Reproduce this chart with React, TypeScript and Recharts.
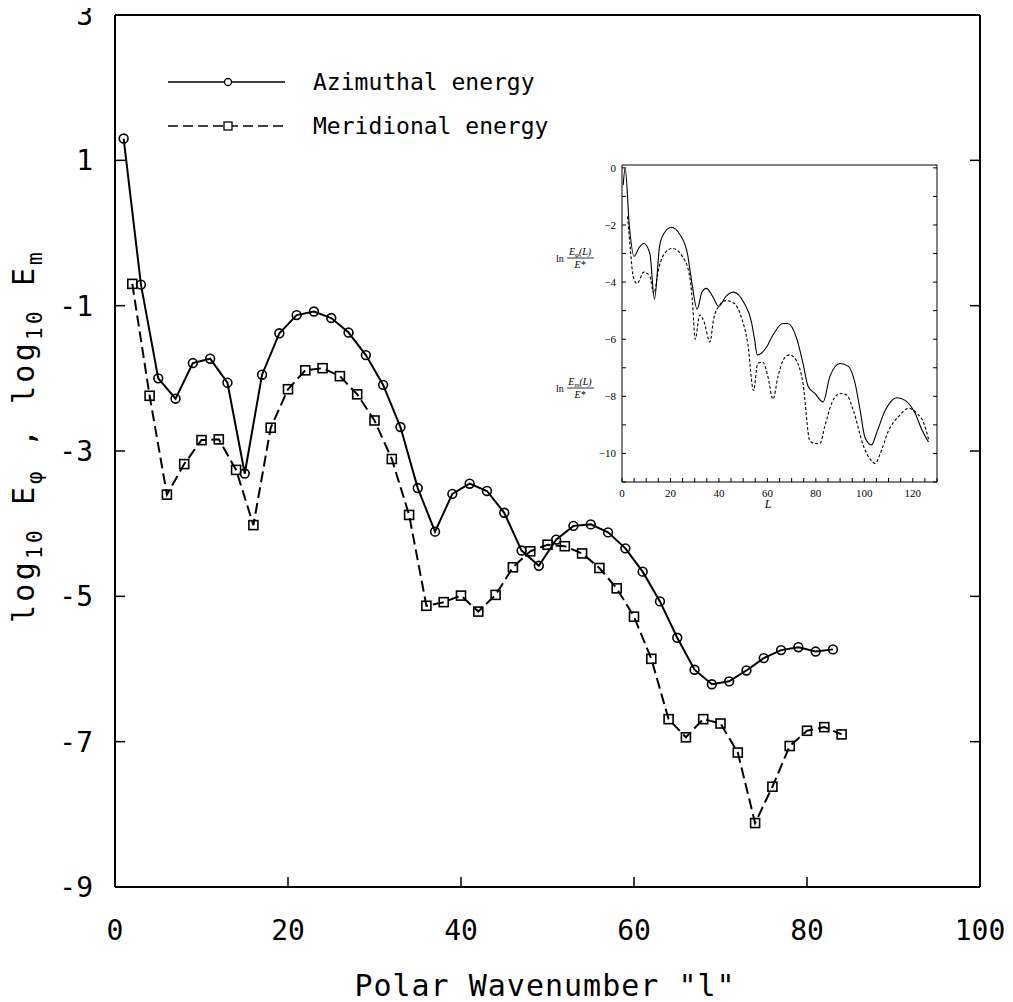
import React from "react";
import { LineChart, Line, XAxis, YAxis, Legend } from "recharts";

// main plot: polar wavenumber l vs log10 energy
const azimuthalL = [
  1, 3, 5, 7, 9, 11, 13, 15, 17, 19, 21, 23, 25, 27, 29, 31, 33, 35, 37, 39, 41,
  43, 45, 47, 49, 51, 53, 55, 57, 59, 61, 63, 65, 67, 69, 71, 73, 75, 77, 79, 81, 83,
];
const azimuthalLog = [
  1.3, -0.71, -2.0, -2.28, -1.79, -1.73, -2.06, -3.31, -1.95, -1.38, -1.13, -1.08,
  -1.17, -1.37, -1.68, -2.09, -2.67, -3.51, -4.11, -3.59, -3.45, -3.55, -3.85,
  -4.37, -4.58, -4.22, -4.03, -4.01, -4.12, -4.34, -4.66, -5.07, -5.57, -6.01,
  -6.21, -6.17, -6.02, -5.85, -5.74, -5.7, -5.76, -5.73,
];
const meridionalL = [
  2, 4, 6, 8, 10, 12, 14, 16, 18, 20, 22, 24, 26, 28, 30, 32, 34, 36, 38, 40, 42,
  44, 46, 48, 50, 52, 54, 56, 58, 60, 62, 64, 66, 68, 70, 72, 74, 76, 78, 80, 82, 84,
];
const meridionalLog = [
  -0.7, -2.24, -3.6, -3.18, -2.85, -2.84, -3.26, -4.02, -2.68, -2.15, -1.89, -1.86,
  -1.97, -2.22, -2.58, -3.11, -3.88, -5.13, -5.08, -4.99, -5.21, -4.98, -4.6,
  -4.38, -4.29, -4.31, -4.41, -4.61, -4.89, -5.28, -5.86, -6.69, -6.94, -6.69,
  -6.75, -7.15, -8.12, -7.62, -7.06, -6.85, -6.8, -6.9,
];
const mainXTicks = [0, 20, 40, 60, 80, 100];
const mainYTicks = [-9, -7, -5, -3, -1, 1, 3];
const innerXTicks = [20, 40, 60, 80];
const innerYTicks = [-7, -5, -3, -1, 1];

// inset: ln E(L)/E* vs L
const insetPhiL = [
  0.5, 1.3, 3, 5, 7, 9, 11.5, 13.4, 15.5, 17.3, 20.3, 24, 27, 28.8, 31, 33, 34.8,
  37.4, 39.9, 42.9, 46, 50.5, 53.3, 54.7, 55.8, 59.5, 62.3, 66.4, 68.5, 72, 74.7,
  76.8, 79.6, 83, 85.8, 90, 93.4, 96.2, 98.3, 100.3, 103, 105, 108.6, 113.5, 117,
  121, 123.9, 126.5,
];
const insetPhiLn = [
  -0.6, 0, -2.0, -3.1, -2.8, -2.65, -3.0, -4.6, -2.75, -2.3, -2.08, -2.35, -3.0,
  -4.0, -4.95, -4.35, -4.22, -4.5, -4.85, -4.5, -4.35, -4.75, -5.35, -6.0, -6.55,
  -6.3, -5.85, -5.45, -5.45, -5.95, -6.85, -7.65, -7.9, -8.2, -7.3, -6.85, -6.95,
  -7.55, -8.5, -9.45, -9.7, -9.3, -8.5, -8.05, -8.15, -8.6, -9.2, -9.6,
];
const insetMerL = [
  2.3, 3.5, 4.6, 6.2, 9, 11.5, 13.1, 15.2, 18, 20.8, 24.9, 27.7, 29, 30.2, 32.1,
  33.9, 36.3, 37.8, 39.9, 42.9, 46.4, 49.1, 51.9, 54.3, 56, 58.1, 60.2, 62.3, 64.4,
  67.1, 69.2, 72, 74.7, 77.5, 79.6, 81.7, 83.7, 86.5, 90, 92.7, 95.5, 99.7, 102.4,
  104.5, 106.6, 110, 114.2, 118.3, 121.8, 124.6, 126.5,
];
const insetMerLn = [
  -1.7, -2.9, -3.8, -4.05, -3.65, -3.8, -4.4, -3.5, -2.95, -2.82, -3.1, -3.7, -4.6,
  -6.0, -5.15, -5.4, -6.1, -5.3, -4.85, -4.65, -4.75, -5.2, -6.15, -7.8, -6.85,
  -6.8, -7.3, -8.1, -7.3, -6.65, -6.55, -6.75, -7.55, -9.55, -9.65, -9.65, -9.05,
  -8.25, -7.9, -7.95, -8.5, -9.75, -10.2, -10.35, -10.0, -9.2, -8.7, -8.42, -8.6,
  -8.95, -9.5,
];
const insetXTicks = [
  0, 5, 10, 15, 20, 25, 30, 35, 40, 45, 50, 55, 60, 65, 70, 75, 80, 85, 90, 95,
  100, 105, 110, 115, 120, 125, 130,
];
const insetYTicks = [-11, -10, -9, -8, -7, -6, -5, -4, -3, -2, -1, 0];

const azData = azimuthalL.map((l, i) => ({ l, v: azimuthalLog[i] }));
const merData = meridionalL.map((l, i) => ({ l, v: meridionalLog[i] }));
const phiData = insetPhiL.map((l, i) => ({ l, v: insetPhiLn[i] }));
const emData = insetMerL.map((l, i) => ({ l, v: insetMerLn[i] }));

const MONO = "DejaVu Sans Mono";
const SERIF = "Liberation Serif";
const mainTick = { fontFamily: MONO, fontSize: 28, fill: "#000" };
const frame = { stroke: "#000", strokeWidth: 2 };
const tickLn = { stroke: "#000", strokeWidth: 1.5 };
const blank = () => "";

const CircleDot = (props: any) => {
  const { cx, cy, index } = props;
  if (cx == null || cy == null) return <g key={`c${index}`} />;
  return (
    <circle key={`c${index}`} cx={cx} cy={cy} r={4.4} fill="none" stroke="#000" strokeWidth={1.6} />
  );
};

const SquareDot = (props: any) => {
  const { cx, cy, index } = props;
  if (cx == null || cy == null) return <g key={`s${index}`} />;
  return (
    <rect key={`s${index}`} x={cx - 4.5} y={cy - 4.5} width={9} height={9} fill="none" stroke="#000" strokeWidth={1.6} />
  );
};

const XTitle = () => (
  <text x={545} y={996} textAnchor="middle" fontFamily={MONO} fontSize={30} fill="#000" letterSpacing={1}>
    Polar Wavenumber "l"
  </text>
);

// y title drawn piece by piece, running upward; "at" = page y where the piece starts
const yTitleParts = [
  { t: "log", at: 623, sub: false },
  { t: "10", at: 559, sub: true },
  { t: "E", at: 505, sub: false },
  { t: "φ", at: 484, sub: true },
  { t: ",", at: 447, sub: false },
  { t: "log", at: 404, sub: false },
  { t: "10", at: 340, sub: true },
  { t: "E", at: 286, sub: false },
  { t: "m", at: 265, sub: true },
];

const YTitle = () => (
  <g fontFamily={MONO} fill="#000">
    {yTitleParts.map((p, i) => (
      <text key={i} transform="rotate(-90)" x={-p.at} y={p.sub ? 42 : 34} fontSize={p.sub ? 21 : 30} letterSpacing={3.3}>
        {p.t}
      </text>
    ))}
  </g>
);

const legendNames = ["Azimuthal energy", "Meridional energy"];

const LegendBox = (props: any) => {
  const payload = props.payload || [];
  return (
    <svg width={420} height={90} style={{ display: "block" }}>
      {payload.map((entry: any) => {
        const row = legendNames.indexOf(entry.value);
        const y = 22 + row * 44;
        const square = row === 1;
        return (
          <g key={entry.value}>
            <line x1={8} x2={125} y1={y} y2={y} stroke="#000" strokeWidth={1.5} strokeDasharray={square ? "10 5" : undefined} />
            {square ? (
              <rect x={64} y={y - 4} width={8} height={8} fill="#fff" stroke="#000" strokeWidth={1.3} />
            ) : (
              <circle cx={68} cy={y} r={3.5} fill="#fff" stroke="#000" strokeWidth={1.3} />
            )}
            <text x={153} y={y + 8} fontFamily={MONO} fontSize={23} fill="#000">
              {entry.value}
            </text>
          </g>
        );
      })}
    </svg>
  );
};

const insetTick = { fontFamily: SERIF, fontSize: 11, fill: "#000" };

const insetYLabel = (v: number) => {
  if (v % 2 !== 0) return "";
  return v === 0 ? "0" : "\u2212" + Math.abs(v);
};
const insetXLabel = (v: number) => (v % 20 === 0 && v <= 120 ? String(v) : "");

const Fraction = ({ y, sub }: { y: number; sub: string }) => (
  <g fontFamily={SERIF} fill="#000">
    <text x={9} y={y + 4} fontSize={10}>ln</text>
    <text x={33} y={y - 3} fontSize={10} textAnchor="middle" fontStyle="italic">
      E<tspan dy={2} fontSize={7}>{sub}</tspan>
      <tspan dy={-2}>(L)</tspan>
    </text>
    <line x1={20} x2={47} y1={y} y2={y} stroke="#000" strokeWidth={0.8} />
    <text x={33} y={y + 10} fontSize={10} textAnchor="middle" fontStyle="italic">E*</text>
  </g>
);

const InsetYLabels = () => (
  <g>
    <Fraction y={103} sub="φ" />
    <Fraction y={233} sub="m" />
  </g>
);

const InsetXLabel = () => (
  <text x={221} y={353} textAnchor="middle" fontFamily={SERIF} fontSize={12} fontStyle="italic" fill="#000">
    L
  </text>
);

function Inset() {
  const line = { stroke: "#000", strokeWidth: 1 };
  return (
    <LineChart width={391} height={362} margin={{ top: 0, right: 0, bottom: 0, left: 0 }}>
      <XAxis xAxisId="b" type="number" dataKey="l" domain={[0, 130]} allowDataOverflow ticks={insetXTicks} interval={0}
        height={35} tickSize={-4} tickMargin={11} axisLine={line} tickLine={line} tick={insetTick}
        tickFormatter={insetXLabel} label={<InsetXLabel />} />
      <XAxis xAxisId="t" orientation="top" type="number" domain={[0, 130]} allowDataOverflow ticks={insetXTicks}
        interval={0} height={10} tickSize={-4} axisLine={line} tickLine={line} tickFormatter={blank} />
      <YAxis yAxisId="l" type="number" domain={[-11, 0.1]} allowDataOverflow ticks={insetYTicks} interval={0}
        width={75} tickSize={-4} tickMargin={10} axisLine={line} tickLine={line} tick={insetTick}
        tickFormatter={insetYLabel} label={<InsetYLabels />} />
      <YAxis yAxisId="r" orientation="right" type="number" domain={[-11, 0.1]} allowDataOverflow ticks={insetYTicks}
        interval={0} width={1} tickSize={-4} axisLine={line} tickLine={line} tickFormatter={blank} />
      <Line xAxisId="b" yAxisId="l" data={phiData} dataKey="v" type="monotone" stroke="#000" strokeWidth={1.1}
        dot={false} isAnimationActive={false} />
      <Line xAxisId="b" yAxisId="l" data={emData} dataKey="v" type="monotone" stroke="#000" strokeWidth={1.1}
        strokeDasharray="3 2" dot={false} isAnimationActive={false} />
    </LineChart>
  );
}

export default function App() {
  return (
    <div style={{ position: "relative", left: -8, top: -8, width: 1013, height: 1002, background: "#fff" }}>
      <LineChart width={1013} height={1002} margin={{ top: 0, right: 0, bottom: 0, left: 0 }}>
        <XAxis xAxisId="b" type="number" dataKey="l" domain={[0, 100]} allowDataOverflow ticks={mainXTicks} interval={0}
          height={115} tickSize={-10} tickMargin={43} axisLine={frame} tickLine={tickLn} tick={mainTick}
          label={<XTitle />} />
        <XAxis xAxisId="t" orientation="top" type="number" domain={[0, 100]} allowDataOverflow ticks={innerXTicks}
          interval={0} height={15} tickSize={-10} axisLine={frame} tickLine={tickLn} tickFormatter={blank} />
        <YAxis yAxisId="l" type="number" domain={[-9, 3]} allowDataOverflow ticks={mainYTicks} interval={0}
          width={115} tickSize={-10} tickMargin={32} axisLine={frame} tickLine={tickLn} tick={mainTick}
          label={<YTitle />} />
        <YAxis yAxisId="r" orientation="right" type="number" domain={[-9, 3]} allowDataOverflow ticks={innerYTicks}
          interval={0} width={33} tickSize={-10} axisLine={frame} tickLine={tickLn} tickFormatter={blank} />
        <Legend layout="horizontal" verticalAlign="middle" align="center" width={420} height={90}
          wrapperStyle={{ left: 160, top: 60 }} content={<LegendBox />} />
        <Line xAxisId="b" yAxisId="l" name="Azimuthal energy" data={azData} dataKey="v" type="linear"
          stroke="#000" strokeWidth={2} dot={CircleDot} activeDot={false} isAnimationActive={false} />
        <Line xAxisId="b" yAxisId="l" name="Meridional energy" data={merData} dataKey="v" type="linear"
          stroke="#000" strokeWidth={2} strokeDasharray="11 5" dot={SquareDot} activeDot={false}
          isAnimationActive={false} />
      </LineChart>
      <div style={{ position: "absolute", left: 547, top: 155 }}>
        <Inset />
      </div>
    </div>
  );
}
